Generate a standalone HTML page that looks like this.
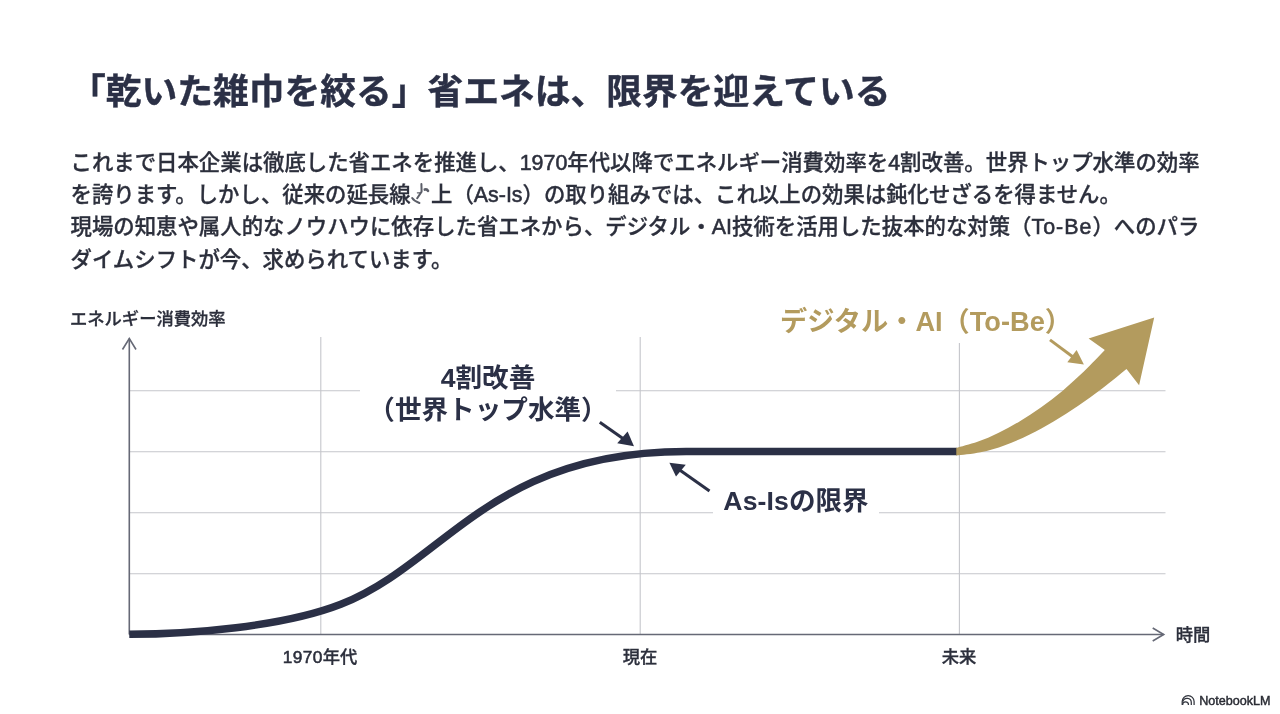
<!DOCTYPE html>
<html lang="ja">
<head>
<meta charset="utf-8">
<title>省エネの限界</title>
<style>
  html, body { margin: 0; padding: 0; background: #ffffff; }
  body {
    width: 1280px; height: 714px; position: relative; overflow: hidden;
    font-family: "Liberation Sans", "Noto Sans CJK JP", sans-serif;
    color: #2b3046;
  }
  .abs { position: absolute; white-space: nowrap; }
  h1 {
    position: absolute; left: 70px; top: 65px; margin: 0;
    font-size: 35.75px; line-height: 54px; font-weight: 700; white-space: nowrap;
    color: #2b3046; -webkit-text-stroke: 0.4px #2b3046;
  }
  .body {
    position: absolute; left: 70.5px; top: 147px; width: 1180px; margin: 0;
    font-size: 21.4px; line-height: 32px; font-weight: 500; color: #2c2f3c;
    -webkit-text-stroke: 0.3px #2c2f3c;
  }
  .body div { white-space: nowrap; position: absolute; left: 0; }
  .lt { -webkit-text-stroke: 0.55px #2c2f3c; }
  .gap { display: inline-block; width: 20.4px; height: 1px; }
  .ax { font-size: 17.3px; font-weight: 500; color: #2c2f3c; line-height: 24px; -webkit-text-stroke: 0.3px #2c2f3c; }
  .tick { font-size: 17.3px; font-weight: 500; color: #2c2f3c; line-height: 24px; text-align: center; width: 200px; -webkit-text-stroke: 0.3px #2c2f3c; }
  .lab { font-size: 26px; font-weight: 700; line-height: 32.3px; text-align: center; background: #fff; }
  .gold { color: #b39b5e; }
  .nlm { font-size: 12.6px; line-height: 16px; font-weight: 400; color: #2a2c34; -webkit-text-stroke: 0.45px #2a2c34; letter-spacing: 0px; }
  svg { position: absolute; left: 0; top: 0; }
</style>
</head>
<body>

<h1>「乾いた雑巾を絞る」省エネは、限界を迎えている</h1>

<div class="body">
  <div style="top:0px">これまで日本企業は徹底した省エネを推進し、<span class="lt">1970</span>年代以降でエネルギー消費効率を<span class="lt">4</span>割改善。世界トップ水準の効率</div>
  <div style="top:32px">を誇ります。しかし、従来の延長線<span class="gap"></span>上（<span class="lt">As-Is</span>）の取り組みでは、これ以上の効果は鈍化せざるを得ません。</div>
  <div style="top:64px">現場の知恵や属人的なノウハウに依存した省エネから、デジタル・<span class="lt">AI</span>技術を活用した抜本的な対策（<span class="lt" style="letter-spacing:1px">To-Be</span>）へのパラ</div>
  <div style="top:97px">ダイムシフトが今、求められています。</div>
</div>

<svg width="1280" height="714" viewBox="0 0 1280 714">
  <!-- grid -->
  <g stroke="#c5c6cb" stroke-width="1.1" fill="none">
    <line x1="129" y1="390.8" x2="1165.5" y2="390.8"/>
    <line x1="129" y1="451.8" x2="1165.5" y2="451.8"/>
    <line x1="129" y1="512.8" x2="1165.5" y2="512.8"/>
    <line x1="129" y1="573.8" x2="1165.5" y2="573.8"/>
    <line x1="320.8" y1="337" x2="320.8" y2="634"/>
    <line x1="640.2" y1="337" x2="640.2" y2="634"/>
    <line x1="959.4" y1="337" x2="959.4" y2="634"/>
  </g>
  <!-- axes -->
  <g stroke="#666976" stroke-width="1.6" fill="none">
    <line x1="129.3" y1="338.5" x2="129.3" y2="634.5"/>
    <polyline points="122.5,349.5 129.3,338.5 136,349.5"/>
    <line x1="129.3" y1="634.5" x2="1163.7" y2="634.5"/>
    <polyline points="1152.7,628 1163.7,634.5 1152.7,641"/>
  </g>
</svg>

<div class="abs ax" style="left:70px; top:307px;">エネルギー消費効率</div>
<div class="abs ax" style="left:1175.7px; top:623px;">時間</div>
<div class="abs tick" style="left:220px; top:645px;"><span class="lt" style="letter-spacing:0.4px">1970</span>年代</div>
<div class="abs tick" style="left:540px; top:645px;">現在</div>
<div class="abs tick" style="left:859px; top:645px;">未来</div>

<div class="abs lab" style="left:360px; top:361.5px; width:256px; height:66px; font-size:26.6px;">4割改善<br>（世界トップ水準）</div>
<div class="abs lab" style="left:713px; top:484.5px; width:166px; height:34px; font-size:26.6px;"><span style="letter-spacing:0.1px">As-Is</span>の限界</div>
<div class="abs lab gold" style="left:780px; top:305px; width:290px; height:38px; font-size:27.2px; line-height:34px;">デジタル・AI（To-Be）</div>

<svg width="1280" height="714" viewBox="0 0 1280 714">
  <!-- S curve -->
  <path d="M129.3 634.3 C189.2 634.3 283.0 626.9 340.8 604.3 C445.1 563.4 489.5 451.5 686.1 451.5 L957 451.5" fill="none" stroke="#2b3046" stroke-width="7.5" stroke-linejoin="round"/>
  <!-- gold arrow -->
  <path d="M956.3 447.9 C959.8 446.9 970.4 444.3 977.5 441.8 C984.6 439.2 991.7 436.2 998.7 432.7 C1005.8 429.3 1012.9 425.5 1019.9 421.2 C1027.0 417.0 1034.1 412.3 1041.2 407.3 C1048.2 402.2 1055.3 396.8 1062.4 390.9 C1069.4 384.9 1076.5 378.6 1083.6 371.8 C1090.7 365.0 1101.3 353.6 1104.8 350.0 L1088.6 338.5 L1154.2 317.6 L1139.1 385.2 L1126.5 368.9 C1122.4 372.1 1110.3 382.2 1102.2 388.4 C1094.1 394.6 1086.0 400.4 1077.9 405.9 C1069.8 411.5 1061.7 416.7 1053.6 421.6 C1045.5 426.4 1037.3 430.9 1029.2 434.8 C1021.1 438.8 1013.0 442.3 1004.9 445.2 C996.8 448.2 988.7 450.6 980.6 452.3 C972.5 454.0 960.4 455.0 956.3 455.5 Z" fill="#b39b5e"/>
  <!-- small arrows -->
  <g stroke="#2b3046" stroke-width="3" fill="#2b3046">
    <line x1="599.8" y1="422.2" x2="624" y2="439.3"/>
    <polygon points="634,446.3 617.2,443.2 627.6,431.6" stroke="none"/>
    <line x1="709.5" y1="491" x2="679" y2="469.5"/>
    <polygon points="669.4,462.7 685.8,464.8 676,476.4" stroke="none"/>
  </g>
  <g stroke="#b39b5e" stroke-width="2.9" fill="#b39b5e">
    <line x1="1050" y1="339.9" x2="1073" y2="357"/>
    <polygon points="1083.9,364.5 1076.6,350 1067.3,362.2" stroke="none"/>
  </g>
</svg>

<svg width="1280" height="714" viewBox="0 0 1280 714">
  <g fill="none" stroke="#32353e" stroke-width="1.25" transform="translate(0 0.3)">
    <path d="M1182.2 704.8 V701.3 A5.95 5.95 0 0 1 1194.1 701.3 V704.8"/>
    <path d="M1182.9 701.4 A4.25 4.25 0 0 1 1191.3 702.4 V704.8"/>
    <path d="M1182.6 704.6 A2.95 2.95 0 0 1 1188.5 704.6"/>
  </g>
  <!-- stray scan mark in paragraph -->
  <g fill="none" stroke="#4a4d58" stroke-width="2" stroke-linecap="round" stroke-linejoin="round" opacity="0.9">
    <path d="M421.4 184 L421.6 191.6 L417.2 198.2"/>
    <path d="M412.2 198 Q414.2 201.2 419.4 203"/>
    <path d="M417.4 192.8 L420.4 192.8" stroke-width="1.3"/>
    <path d="M424.8 189.6 Q427 188.9 428 190.8" stroke-width="2.6"/>
  </g>
</svg>
<div class="abs nlm" style="left:1199.2px; top:693px;">NotebookLM</div>

</body>
</html>
